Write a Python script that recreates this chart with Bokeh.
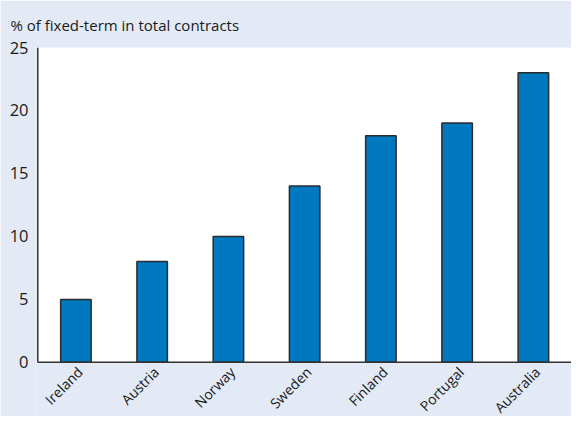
from bokeh.plotting import figure
from bokeh.models import Range1d, FixedTicker, ColumnDataSource
from bokeh.core.properties import value
from bokeh.embed import file_html
from bokeh.resources import INLINE
import math

countries = ["Ireland", "Austria", "Norway", "Sweden", "Finland", "Portugal", "Australia"]
shares = [5, 8, 10, 14, 18, 19, 23]
y_ticks = [0, 5, 10, 15, 20, 25]
title_text = "% of fixed-term in total contracts"

BG = "#e3eaf6"
FONT = "Open Sans"
INK = "#1a1a1a"
AXIS = "#333333"

n = len(countries)
y_max = 25
y_min = -4.3          # room below zero for the rotated category labels
x_min = -0.03

centers = [i + 0.5 for i in range(n)]
src = ColumnDataSource(dict(x=centers, share=shares, country=countries, base=[0] * n))

p = figure(x_range=Range1d(x_min, n), y_range=Range1d(y_min, y_max), width=571, height=416,
           output_backend="svg", toolbar_location=None,
           background_fill_color=BG, border_fill_color=BG,
           min_border_left=35, min_border_right=0, min_border_top=46, min_border_bottom=0)

p.title.text = title_text
p.title.text_font = FONT
p.title.text_font_size = "15px"
p.title.text_font_style = "normal"
p.title.text_color = INK
p.title.align = "left"
p.title.offset = -25
p.title.standoff = 25

# white plotting area from 0 to 25
p.quad(left=[0], right=[n], bottom=[0], top=[y_max], fill_color="white", line_color=None)

p.vbar(x="x", top="share", width=0.4, source=src, fill_color="#0078bf",
       line_color="#2b2b2b", line_width=1.5)

# axis lines
p.segment(x0=[0, 0], y0=[0, 0], x1=[0, n], y1=[y_max, 0], line_color=AXIS, line_width=1.5)

# category labels
p.text(x="x", y="base", text="country", source=src, angle=math.pi / 4,
       text_align="right", text_baseline="middle", x_offset=4, y_offset=7,
       text_font=value(FONT), text_font_size="14px", text_color=INK)

p.outline_line_color = None
p.grid.grid_line_color = None
p.xaxis.visible = False

p.yaxis.ticker = FixedTicker(ticks=y_ticks)
p.yaxis.major_tick_line_color = None
p.yaxis.minor_tick_line_color = None
p.yaxis.major_tick_out = 0
p.yaxis.axis_line_color = None
p.yaxis.major_label_text_font = FONT
p.yaxis.major_label_text_font_size = "16.5px"
p.yaxis.major_label_text_color = INK
p.yaxis.major_label_standoff = 7

open("out.html", "w").write(file_html(p, INLINE))
